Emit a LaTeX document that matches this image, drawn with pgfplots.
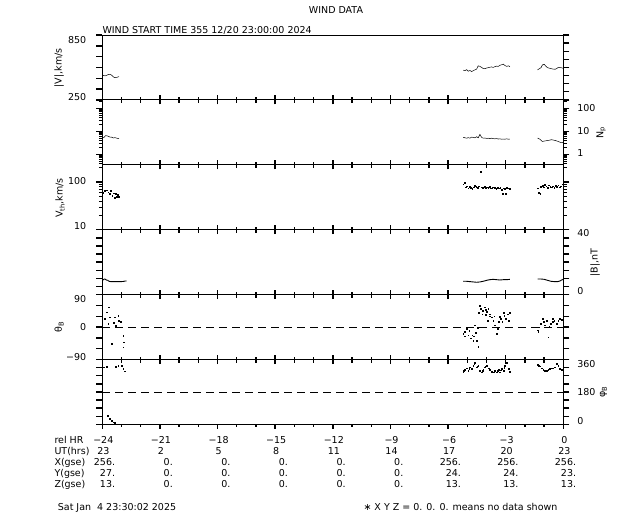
\documentclass[border=0pt]{standalone}
\usepackage{pgfplots}
\pgfplotsset{compat=1.18}
\usepackage{fontspec}
\setmainfont{DejaVu Sans}
\begin{document}
\fontsize{9.5pt}{11pt}\selectfont
\begin{tikzpicture}
\path[use as bounding box, fill=white] (0pt,0pt) rectangle (640pt,512pt);
\pgfplotsset{
  panel/.style={
    scale only axis, width=461pt, height=64.9pt, anchor=south west,
    xmin=-24, xmax=0,
    xtick=\empty, ytick=\empty,
    axis line style={line width=0.9pt},
  },
  tickpanel/.style={
    scale only axis, width=461pt, height=64.9pt, anchor=south west,
    xmin=-24, xmax=0, xtick=\empty, minor x tick num=0,
    yticklabels={}, tick align=outside,
    major tick length=6pt, minor tick length=3.5pt,
    axis line style={line width=0.9pt},
    every tick/.style={black, line width=1.4pt},
  },
  dot/.style={only marks, mark=square*, mark size=0.35pt, black},
  ln/.style={black, line width=0.5pt, mark=none},
}
% ---------- Panel 1 : |V| ----------
\begin{axis}[panel, at={(102.3pt,412.1pt)}, ymin=250, ymax=850]
\addplot[ln] coordinates {(-24.00,474) (-23.93,476) (-23.86,472) (-23.76,478) (-23.69,485) (-23.60,487) (-23.51,478) (-23.42,462) (-23.34,456) (-23.25,458) (-23.18,462) (-23.13,465)};
\addplot[ln] coordinates {(-5.21,525) (-5.12,520) (-5.03,530) (-4.95,515) (-4.86,522) (-4.77,512) (-4.69,520) (-4.60,528) (-4.51,535) (-4.43,565) (-4.34,560) (-4.25,550) (-4.17,540) (-4.08,538) (-3.99,545) (-3.91,548) (-3.82,552) (-3.73,555) (-3.65,550) (-3.56,558) (-3.47,562) (-3.38,560) (-3.30,570) (-3.21,575) (-3.12,580) (-3.04,568) (-2.95,560) (-2.86,565) (-2.78,558)};
\addplot[ln] coordinates {(-1.34,527) (-1.27,536) (-1.16,548) (-1.09,573) (-0.99,579) (-0.92,563) (-0.82,548) (-0.70,542) (-0.57,536) (-0.43,533) (-0.35,539) (-0.26,551) (-0.12,548) (0.00,542)};
\end{axis}
\begin{axis}[tickpanel, at={(102.3pt,412.1pt)}, ytick pos=left, ymin=250, ymax=850, ytick={250,350,450,550,650,750,850}]
\end{axis}
\begin{axis}[tickpanel, at={(102.3pt,412.1pt)}, ytick pos=right, ymin=0, ymax=8, ytick={0,1,2,3,4,5,6,7,8}]
\end{axis}
% ---------- Panel 2 : Np ----------
\begin{axis}[panel, at={(102.3pt,347.2pt)}, ymode=log, ymin=0.35, ymax=230, minor ytick={}]
\addplot[ln] coordinates {(-24.00,5.1) (-23.90,5.5) (-23.83,6.5) (-23.72,6.2) (-23.60,5.6) (-23.51,5.5) (-23.42,5.1) (-23.34,5.3) (-23.25,5.0) (-23.17,4.9) (-23.13,4.8)};
\addplot[ln] coordinates {(-5.21,5.5) (-5.12,5.2) (-5.03,5.0) (-4.95,5.3) (-4.86,5.0) (-4.77,5.6) (-4.69,5.4) (-4.60,5.2) (-4.51,5.8) (-4.43,5.2) (-4.34,7.3) (-4.25,5.4) (-4.17,5.0) (-4.08,5.1) (-3.99,4.9) (-3.91,5.0) (-3.82,4.8) (-3.73,5.0) (-3.65,4.8) (-3.56,4.7) (-3.47,4.8) (-3.38,4.6) (-3.30,4.7) (-3.21,4.5) (-3.12,4.6) (-3.04,4.5) (-2.95,4.7) (-2.86,4.5) (-2.78,4.6)};
\addplot[ln] coordinates {(-1.34,5.1) (-1.22,4.5) (-1.09,3.6) (-0.96,3.8) (-0.78,4.0) (-0.61,4.3) (-0.43,4.0) (-0.26,3.6) (-0.12,3.2) (0.00,3.3)};
\end{axis}
\begin{axis}[tickpanel, at={(102.3pt,347.2pt)}, ytick pos=both, ymode=log, ymin=0.35, ymax=230, ytick={1,10,100},
  minor ytick={0.4,0.5,0.6,0.7,0.8,0.9,2,3,4,5,6,7,8,9,20,30,40,50,60,70,80,90,200},
  minor tick style={line width=0.9pt}]
\end{axis}
% ---------- Panel 3 : Vth ----------
\begin{axis}[panel, at={(102.3pt,282.3pt)}, ymode=log, ymin=10, ymax=230, minor ytick={}]
\addplot[dot] coordinates {(-23.95,60) (-23.86,65) (-23.77,67) (-23.69,61) (-23.60,56) (-23.55,65) (-23.48,51) (-23.42,58) (-23.37,47) (-23.31,56) (-23.25,49) (-23.20,54) (-23.13,50)};
\addplot[dot] coordinates {(-5.21,90) (-5.15,96) (-5.09,78) (-5.02,82) (-4.95,74) (-4.88,80) (-4.81,76) (-4.74,72) (-4.67,78) (-4.60,84) (-4.53,80) (-4.46,76) (-4.39,82) (-4.30,167) (-4.25,78) (-4.18,76) (-4.11,80) (-4.04,74) (-3.97,78) (-3.91,76) (-3.84,80) (-3.77,74) (-3.70,76) (-3.63,78) (-3.56,76) (-3.49,72) (-3.42,76) (-3.35,74) (-3.28,76) (-3.21,70) (-3.16,56) (-3.11,74) (-3.04,72) (-2.99,56) (-2.93,76) (-2.86,74) (-2.79,72)};
\addplot[dot] coordinates {(-1.34,74) (-1.27,60) (-1.20,56) (-1.16,80) (-1.09,84) (-1.02,78) (-0.96,88) (-0.89,82) (-0.82,76) (-0.75,86) (-0.68,80) (-0.61,78) (-0.54,82) (-0.47,76) (-0.40,84) (-0.33,80) (-0.26,86) (-0.19,78) (-0.12,82) (-0.05,90) (0.00,84)};
\end{axis}
\begin{axis}[tickpanel, at={(102.3pt,282.3pt)}, ytick pos=both, ymode=log, ymin=10, ymax=230, ytick={10,100},
  minor ytick={20,30,40,50,60,70,80,90,200}, minor tick style={line width=0.9pt}]
\end{axis}
% ---------- Panel 4 : |B| ----------
\begin{axis}[panel, at={(102.3pt,217.4pt)}, ymin=0, ymax=40]
\addplot[ln, line width=0.9pt] coordinates {(-24.00,8.6) (-23.93,9.4) (-23.86,9.6) (-23.79,9.0) (-23.72,8.8) (-23.65,8.2) (-23.55,8.0) (-23.42,8.0) (-23.30,8.0) (-23.17,8.0) (-23.03,8.0) (-22.91,8.1) (-22.79,8.4) (-22.73,8.4)};
\addplot[ln, line width=0.9pt] coordinates {(-5.21,8.2) (-5.03,8.2) (-4.86,8.0) (-4.69,7.8) (-4.51,7.6) (-4.34,7.8) (-4.17,8.2) (-3.99,8.8) (-3.82,9.2) (-3.65,9.4) (-3.47,9.2) (-3.30,9.0) (-3.12,9.2) (-2.95,9.2) (-2.78,9.4)};
\addplot[ln, line width=0.9pt] coordinates {(-1.34,9.6) (-1.16,9.6) (-0.99,9.4) (-0.82,8.8) (-0.64,8.2) (-0.47,8.0) (-0.30,8.0) (-0.17,8.4) (-0.09,9.0) (0.00,9.4)};
\end{axis}
\begin{axis}[tickpanel, at={(102.3pt,217.4pt)}, ytick pos=both, ymin=0, ymax=40, ytick={0,5,10,15,20,25,30,35,40}]
\end{axis}
% ---------- Panel 5 : theta ----------
\begin{axis}[panel, at={(102.3pt,152.5pt)}, ymin=-90, ymax=90]
\addplot[black, line width=0.8pt, dash pattern=on 8pt off 5pt] coordinates {(-24,0) (0,0)};
\addplot[dot] coordinates {(-24.00,30) (-23.86,23) (-23.77,41) (-23.69,10) (-23.65,55) (-23.60,27) (-23.51,-47) (-23.42,13) (-23.34,27) (-23.31,4) (-23.17,32) (-23.13,18) (-23.03,15) (-22.91,-24) (-22.87,-42) (-22.91,-56)};
\addplot[dot] coordinates {(-5.21,-19) (-5.15,-25) (-5.12,-12) (-5.03,-4) (-4.95,-23) (-4.90,-10) (-4.81,-31) (-4.74,-23) (-4.69,-37) (-4.65,-25) (-4.60,5) (-4.56,-15) (-4.51,-37) (-4.47,-2) (-4.43,-54) (-4.39,39) (-4.35,60) (-4.29,50) (-4.22,36) (-4.18,45) (-4.11,55) (-4.05,48) (-4.04,34) (-3.98,42) (-3.94,18) (-3.91,50) (-3.85,30) (-3.82,36) (-3.73,27) (-3.65,18) (-3.60,30) (-3.56,5) (-3.47,-19) (-3.42,-4) (-3.35,14) (-3.30,28) (-3.25,24) (-3.18,14) (-3.12,40) (-3.07,32) (-3.00,23) (-2.90,36) (-2.83,18) (-2.78,39)};
\addplot[dot] coordinates {(-1.34,-9) (-1.30,-12) (-1.27,0) (-1.16,9) (-1.09,24) (-1.02,14) (-0.96,5) (-0.87,18) (-0.78,-28) (-0.73,2) (-0.64,10) (-0.57,23) (-0.54,14) (-0.47,18) (-0.35,9) (-0.26,18) (-0.17,23) (-0.09,20) (-0.05,21) (0.00,23)};
\end{axis}
\begin{axis}[tickpanel, at={(102.3pt,152.5pt)}, ytick pos=both, ymin=-90, ymax=90, ytick={-90,-60,-30,0,30,60,90}]
\end{axis}
% ---------- Panel 6 : phi ----------
\begin{axis}[panel, at={(102.3pt,87.6pt)}, ymin=0, ymax=360]
\addplot[black, line width=0.8pt, dash pattern=on 8pt off 5pt] coordinates {(-24,180) (0,180)};
\addplot[dot] coordinates {(-24.00,321) (-23.91,318) (-23.77,320) (-23.31,320) (-23.17,327) (-22.99,326) (-22.91,310) (-22.82,295) (-23.72,50) (-23.60,31) (-23.51,22) (-23.42,13) (-23.34,8)};
\addplot[dot] coordinates {(-5.21,290) (-5.17,296) (-5.12,305) (-5.03,312) (-4.95,299) (-4.90,310) (-4.86,318) (-4.77,308) (-4.69,327) (-4.64,335) (-4.60,342) (-4.51,318) (-4.47,322) (-4.43,327) (-4.34,299) (-4.25,290) (-4.21,298) (-4.17,305) (-4.08,318) (-4.03,322) (-3.99,327) (-3.91,312) (-3.86,308) (-3.82,305) (-3.73,294) (-3.65,290) (-3.60,294) (-3.56,299) (-3.47,290) (-3.43,296) (-3.38,305) (-3.30,290) (-3.25,300) (-3.21,308) (-3.12,299) (-3.08,315) (-3.04,327) (-2.95,342) (-2.86,308) (-2.78,294)};
\addplot[dot] coordinates {(-1.34,331) (-1.28,327) (-1.22,323) (-1.13,312) (-1.04,305) (-0.96,296) (-0.87,299) (-0.78,305) (-0.70,308) (-0.61,312) (-0.52,312) (-0.43,318) (-0.35,336) (-0.26,327) (-0.17,308) (-0.09,305) (0.00,312)};
\end{axis}
\begin{axis}[tickpanel, at={(102.3pt,87.6pt)}, ytick pos=both, ymin=0, ymax=360, ytick={0,45,90,135,180,225,270,315,360}]
\end{axis}
\begin{scope}[x=1pt,y=1pt]
% ---------- hour ticks at panel boundaries ----------
\foreach \k in {0,...,24}{
  \pgfmathtruncatemacro\m{mod(\k,3)}
  \pgfmathsetmacro\X{102.3+\k*19.2083}
  \pgfmathsetmacro\L{ifthenelse(\m==0,4.5,3)}
  \foreach \Y in {412.1,347.2,282.3,217.4,152.5}
    \draw[line width=1.4pt] (\X,\Y-\L) -- (\X,\Y+\L);
  \draw[line width=1.4pt] (\X,87.6) -- (\X,87.6-\L);
}
% ---------- y tick labels ----------
\node[anchor=east] at (89.5,472) {850};
\node[anchor=east] at (89.5,415.3) {250};
\node[anchor=west] at (574,403.7) {100};
\node[anchor=west] at (574,381) {10};
\node[anchor=west] at (574,358.7) {1};
\node[anchor=east] at (89.5,331) {100};
\node[anchor=east] at (89.5,285.5) {10};
\node[anchor=west] at (574,279) {40};
\node[anchor=west] at (574,221.2) {0};
\node[anchor=east] at (89.5,213) {90};
\node[anchor=east] at (89.5,184.5) {0};
\node[anchor=east] at (89.5,155) {−90};
\node[anchor=west] at (574,148.3) {360};
\node[anchor=west] at (574,120) {180};
\node[anchor=west] at (574,91) {0};
% ---------- axis labels ----------
\node[rotate=90] at (59,444) {|V|,km/s};
\node[rotate=90] at (601,379) {N\textsubscript{p}};
\node[rotate=90] at (60,314) {V\textsubscript{th},km/s};
\node[rotate=90] at (595,249.5) {|B|,nT};
\node[rotate=90] at (59,185) {θ\textsubscript{B}};
\node[rotate=90] at (603.5,120) {φ\textsubscript{B}};
% ---------- titles ----------
\node[anchor=mid] at (336,501.5) {WIND DATA};
\node[anchor=base west, inner sep=0pt] at (102.3,478) {WIND START TIME 355 12/20 23:00:00 2024};
% ---------- bottom table ----------
\foreach \r/\t in {71/rel HR,60.5/UT(hrs),49.5/X(gse),38.5/Y(gse),27.5/Z(gse)}
  \node[anchor=mid west, inner sep=0pt] at (54.3,\r) {\t};
\foreach \x/\a/\b/\c/\d/\e in {102.3/−24/23/256./27./13., 160.0/−21/2/0./0./0., 217.6/−18/5/0./0./0., 275.2/−15/8/0./0./0., 332.8/−12/11/0./0./0., 390.5/−9/14/0./0./0., 448.1/−6/17/256./24./13., 505.7/−3/20/256./24./13., 563.3/0/23/256./23./13.}{
  \node[anchor=mid, inner sep=0pt, xshift=1pt] at (\x,71) {\a};
  \node[anchor=mid, inner sep=0pt, xshift=1pt] at (\x,60.5) {\b};
  \node[anchor=mid east, inner sep=0pt, xshift=13pt] at (\x,49.5) {\c};
  \node[anchor=mid east, inner sep=0pt, xshift=13pt] at (\x,38.5) {\d};
  \node[anchor=mid east, inner sep=0pt, xshift=13pt] at (\x,27.5) {\e};
}
\node[anchor=mid west, inner sep=0pt] at (57.7,4) {Sat Jan~~4 23:30:02 2025};
\node[anchor=mid west, inner sep=0pt] at (363.3,4) {∗ X Y Z = 0. 0. 0. means no data shown};
\end{scope}
\end{tikzpicture}
\end{document}
